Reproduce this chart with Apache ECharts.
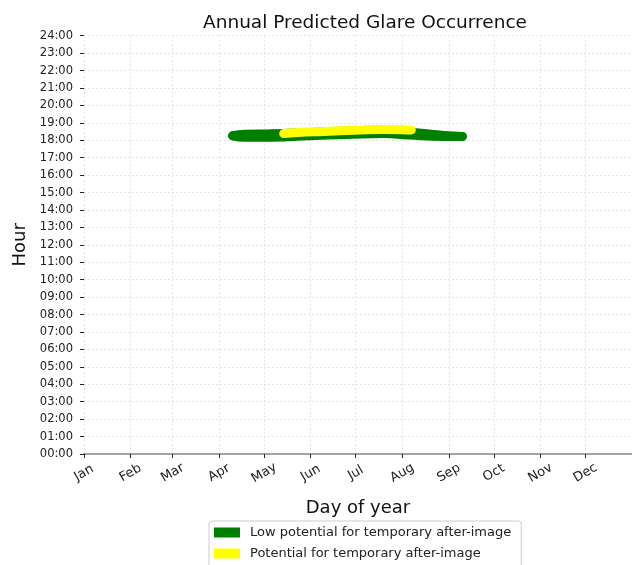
<!DOCTYPE html>
<html><head><meta charset="utf-8">
<script src="https://cdn.jsdelivr.net/npm/echarts@6/dist/echarts.min.js"></script>
<style>html,body{margin:0;padding:0;background:#fff}#c{width:632px;height:565px}</style>
</head><body><div id="c"></div>
<script>
const monthNames = ['Jan','Feb','Mar','Apr','May','Jun','Jul','Aug','Sep','Oct','Nov','Dec'];
const monthStartDays = [0,31,59,90,120,151,181,212,243,273,304,334];
const hourTicks = [0,1,2,3,4,5,6,7,8,9,10,11,12,13,14,15,16,17,18,19,20,21,22,23,24];

// Low potential band (upper and lower edge tracks), hours as decimals
const greenDays = [99,107,125,150,175,200,216,240,252];
const greenUpperHours = [18.26,18.34,18.37,18.45,18.53,18.59,18.47,18.28,18.22];
const greenLowerHours = [18.26,18.18,18.18,18.26,18.33,18.39,18.30,18.21,18.22];

// Potential for after-image band
const yellowDays = [133,142,160,180,200,212,218];
const yellowHours = [18.39,18.45,18.51,18.57,18.62,18.61,18.59];

const LOW = 'Low potential for temporary after-image';
const POT = 'Potential for temporary after-image';
const pad = n => (n < 10 ? '0' : '') + n;

const chart = echarts.init(document.getElementById('c'), null, {renderer:'canvas'});
const lineSeries = (name, days, hours, color, width) => ({
  name, type:'line', symbol:'none', smooth:true,
  data: days.map((d,i)=>[d,hours[i]]),
  lineStyle:{color, width, cap:'round', join:'round'},
  itemStyle:{color}, z: 3
});
chart.setOption({
  animation:false,
  textStyle:{fontFamily:'DejaVu Sans'},
  title:{text:'Annual Predicted Glare Occurrence', left:360, textAlign:'center', top:9,
    textStyle:{fontSize:18.5, fontWeight:'normal', color:'#111', fontFamily:'DejaVu Sans'}},
  grid:{left:84, right:-12, top:35.7, bottom:111, containLabel:false},
  xAxis:{type:'value', min:0, max:365,
    name:'Day of year', nameLocation:'middle', nameGap:45,
    nameTextStyle:{fontSize:18, color:'#111', fontFamily:'DejaVu Sans'},
    axisLine:{lineStyle:{color:'#888', width:1.5}},
    axisTick:{show:true, customValues:monthStartDays, length:4, lineStyle:{color:'#222'}},
    axisLabel:{customValues:monthStartDays, rotate:30, align:'center', verticalAlign:'middle', margin:19,
      fontSize:13, color:'#222', formatter:v=>monthNames[monthStartDays.indexOf(v)]},
    splitLine:{show:true, lineStyle:{color:'#ddd', type:[2,2], width:0.8}}
  },
  yAxis:{type:'value', min:0, max:24, interval:1,
    name:'Hour', nameLocation:'middle', nameGap:53, nameRotate:90,
    nameTextStyle:{fontSize:18, color:'#111', fontFamily:'DejaVu Sans'},
    axisLine:{show:false},
    axisTick:{show:true, length:4, lineStyle:{color:'#222'}},
    axisLabel:{fontSize:11.5, color:'#222', margin:11, formatter:v=>pad(v)+':00'},
    splitLine:{show:true, lineStyle:{color:'#ddd', type:[2,2], width:0.8}}
  },
  legend:{orient:'vertical', left:209, top:521, height:80, data:[LOW,POT], icon:'rect',
    itemWidth:26, itemHeight:10, itemGap:8, padding:[5,10,8,5],
    borderColor:'#ccc', borderWidth:1, borderRadius:3,
    textStyle:{fontSize:13, color:'#222', fontFamily:'DejaVu Sans', padding:[0,0,0,5]}},
  series:[
    lineSeries(LOW, greenDays, greenUpperHours, '#008000', 9),
    lineSeries(LOW, greenDays, greenLowerHours, '#008000', 9),
    lineSeries(POT, yellowDays, yellowHours, '#ffff00', 9)
  ]
});
</script></body></html>
